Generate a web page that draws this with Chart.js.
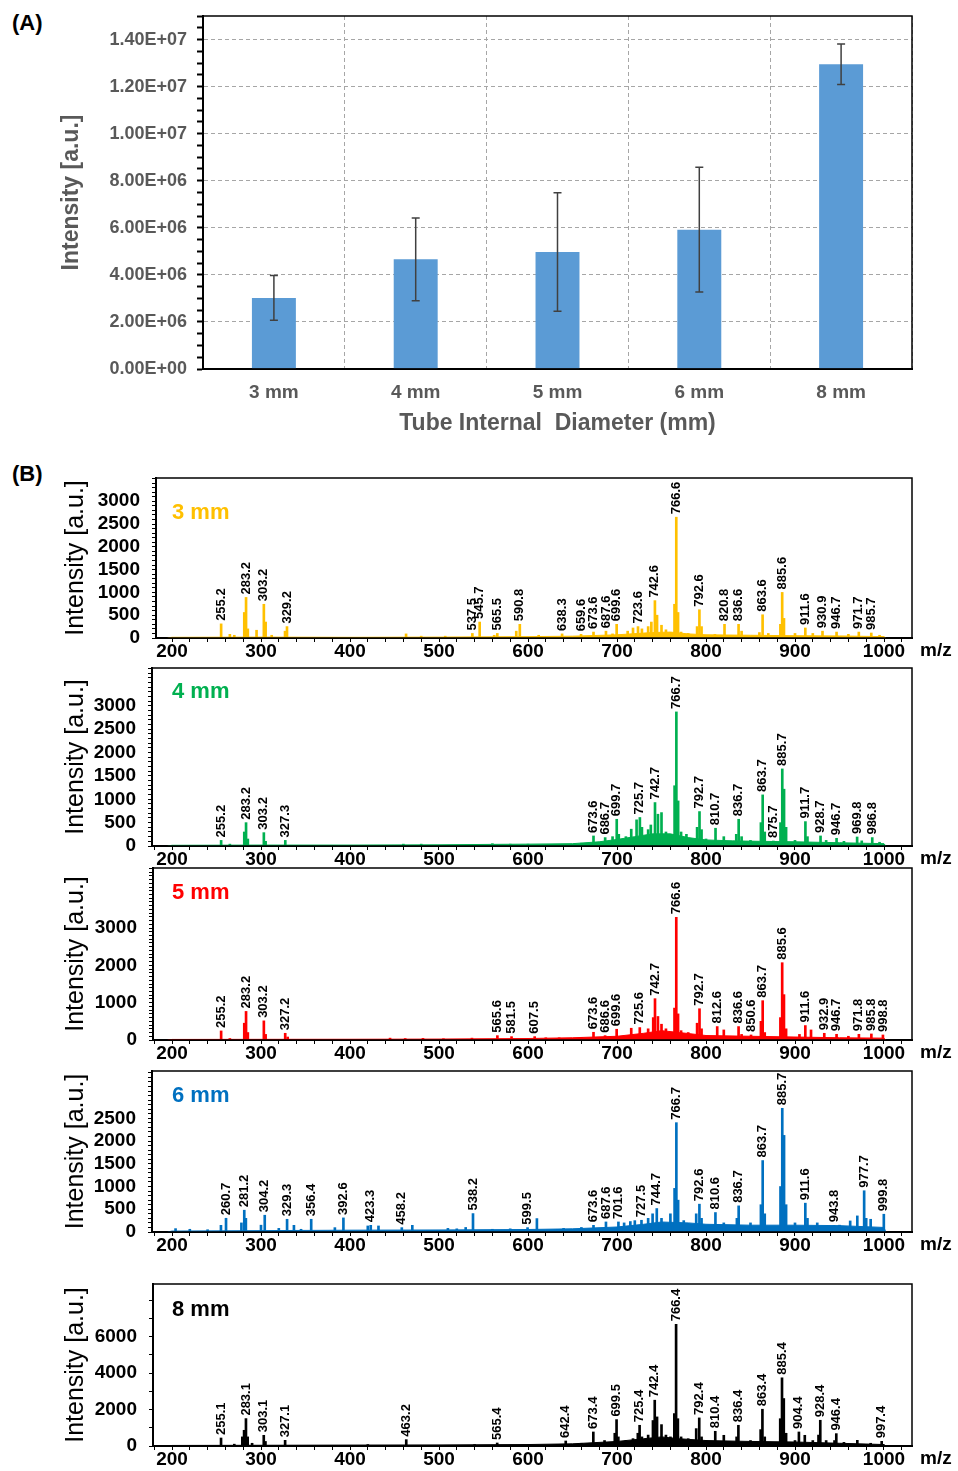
<!DOCTYPE html>
<html>
<head>
<meta charset="utf-8">
<script src="https://cdn.jsdelivr.net/npm/chart.js@4/dist/chart.umd.min.js"></script>
<style>
  body { margin: 0; background: #fff; width: 958px; height: 1471px; position: relative; overflow: hidden; }
  canvas { position: absolute; left: 0; }
  .tag { position: absolute; left: 12px; font: bold 22px 'Liberation Sans', Arial, sans-serif; line-height: 24px; color: #000; }
</style>
</head>
<body>
<div class="tag" style="top:11px">(A)</div>
<div class="tag" style="top:462px">(B)</div>
<canvas id="chartA" width="958" height="440" style="top:0"></canvas>
<script>
var FONT = "'Liberation Sans', Arial, Helvetica, sans-serif";

// ---- (A) mean intensity vs tube diameter ----
var diameters = ['3 mm', '4 mm', '5 mm', '6 mm', '8 mm'];
var meanIntensity = [3.02e6, 4.66e6, 4.97e6, 5.92e6, 1.295e7];
var errIntensity = [0.95e6, 1.76e6, 2.52e6, 2.65e6, 0.86e6];
var yLabelsA = [0, 2e6, 4e6, 6e6, 8e6, 1e7, 1.2e7, 1.4e7];

// ---- (B) spectra, peaks as [m/z, intensity] ----
var peaks3mm = [
  [255.2, 310], [265, 80], [270, 60], [281.2, 560], [283.2, 890], [285.2, 200], [295, 170], [303.2, 740], [305.2, 350], [312, 60], [327, 150], [329.2, 250],
  [463, 90], [480, 40], [507, 40], [537.5, 100], [545.7, 350], [562, 60], [565.5, 100], [586.8, 150], [590.8, 300], [612, 60],
  [638.3, 90], [659.6, 80], [673.6, 130], [687.6, 150], [695, 90], [699.6, 300], [712, 150], [718, 220], [723.6, 250], [728, 200], [735, 250], [738.6, 350], [742.6, 820], [745, 500], [750, 280], [755, 180],
  [764.6, 740], [766.6, 2650], [768.6, 560], [772, 130], [780, 100], [790, 250], [792.6, 620], [795, 250], [810, 80], [820.8, 300], [836.6, 300], [840, 150], [860, 120], [863.6, 510], [870, 100],
  [883.6, 300], [885.6, 1000], [887.6, 430], [900, 100], [911.6, 220], [920, 100], [930.9, 150], [946.7, 130], [960, 80], [971.7, 130], [985.7, 110], [995, 60]
];
var noise3mm = [[195, 0], [200, 15], [300, 20], [400, 15], [500, 20], [600, 30], [650, 40], [700, 70], [740, 120], [760, 130], [780, 90], [800, 70], [850, 60], [900, 50], [950, 45], [1000, 30], [1002, 0]];
var labels3mm = ['255.2', '283.2', '303.2', '329.2', '537.5', '545.7', '565.5', '590.8', '638.3', '659.6', '673.6', '687.6', '699.6', '723.6', '742.6', '766.6', '792.6', '820.8', '836.6', '863.6', '885.6', '911.6', '930.9', '946.7', '971.7', '985.7'];

var peaks4mm = [
  [255.2, 120], [265, 40], [281.2, 300], [283.2, 500], [285.2, 150], [303.2, 286], [305.2, 100], [327.3, 120], [460, 40], [480, 40], [560, 50], [580, 40], [600, 40], [660, 60],
  [673.6, 215], [686.7, 180], [695, 200], [699.7, 572], [702, 250], [710, 200], [716, 360], [722, 560], [725.7, 610], [728, 400], [735, 350], [738, 450], [742.7, 930], [746, 680], [750, 715], [755, 300], [760, 250],
  [764.7, 1290], [766.7, 2870], [768.7, 965], [772, 300], [778, 250], [790, 400], [792.7, 737], [795, 350], [800, 150], [810.7, 380], [820, 200], [834, 250], [836.7, 572], [840, 200], [850, 120],
  [861.7, 500], [863.7, 1094], [866, 300], [875.7, 107], [883.7, 500], [885.7, 1650], [887.7, 1216], [890, 400], [900, 120], [911.7, 522], [914, 200], [928.7, 215], [935, 120], [946.7, 165], [955, 100], [969.8, 193], [975, 110], [986.8, 180], [995, 80]
];
var noise4mm = [[195, 0], [200, 15], [300, 20], [400, 20], [500, 25], [560, 35], [600, 40], [650, 50], [680, 90], [700, 140], [720, 200], [740, 260], [760, 260], [780, 180], [800, 130], [830, 110], [860, 100], [900, 90], [950, 70], [1000, 50], [1002, 0]];
var labels4mm = ['255.2', '283.2', '303.2', '327.3', '673.6', '686.7', '699.7', '725.7', '742.7', '766.7', '792.7', '810.7', '836.7', '863.7', '875.7', '885.7', '911.7', '928.7', '946.7', '969.8', '986.8'];

var peaks5mm = [
  [255.2, 243], [265, 40], [281.2, 450], [283.2, 766], [285.2, 200], [303.2, 513], [305.2, 150], [327.2, 180], [330, 80], [445, 50], [462, 40], [482, 45], [505, 35], [537, 50],
  [565.6, 117], [581.5, 90], [607.5, 90], [620, 60], [635, 60], [660, 70], [673.6, 207], [686.6, 117], [699.6, 288], [716, 315], [725.6, 333], [735, 300], [740.7, 600], [742.7, 1108], [746, 630], [750, 423], [755, 300],
  [764.6, 855], [766.6, 3288], [768.6, 700], [772, 250], [780, 200], [790, 450], [792.7, 838], [795, 300], [812.6, 360], [820, 270], [836.6, 360], [840, 150], [850.6, 135],
  [861.7, 500], [863.7, 1054], [866, 200], [883.6, 600], [885.6, 2072], [887.6, 1216], [890, 300], [905, 150], [911.6, 387], [918, 270], [932.9, 180], [946.7, 153], [960, 100], [971.8, 153], [985.8, 162], [998.8, 135]
];
var noise5mm = [[195, 0], [200, 15], [300, 18], [400, 20], [500, 25], [600, 40], [650, 60], [700, 100], [730, 180], [750, 250], [770, 200], [800, 120], [850, 100], [900, 80], [950, 60], [1000, 50], [1002, 0]];
var labels5mm = ['255.2', '283.2', '303.2', '327.2', '565.6', '581.5', '607.5', '673.6', '686.6', '699.6', '725.6', '742.7', '766.6', '792.7', '812.6', '836.6', '850.6', '863.7', '885.6', '911.6', '932.9', '946.7', '971.8', '985.8', '998.8'];

var peaks6mm = [
  [204, 74], [220, 60], [240, 50], [255, 147], [260.7, 302], [278, 200], [281.2, 479], [283, 300], [300, 150], [304.2, 369], [320, 80], [329.3, 280], [337, 147], [345, 60], [356.4, 280],
  [383, 96], [392.6, 310], [420, 133], [423.3, 147], [432, 133], [458.2, 96], [470, 147], [510, 80], [520, 70], [530, 100], [538.2, 405], [560, 60], [580, 70], [599.5, 96], [610, 295], [640, 80], [660, 100],
  [673.6, 147], [687.6, 221], [701.6, 221], [708, 200], [715, 230], [720, 250], [727.5, 258], [735, 300], [740, 400], [744.7, 516], [750, 300], [760, 400],
  [764.7, 959], [766.7, 2404], [768.7, 700], [775, 250], [789, 400], [792.6, 612], [795, 300], [810.6, 428], [820, 200], [834.7, 300], [836.7, 575], [850, 200],
  [861.7, 600], [863.7, 1571], [866, 400], [883.7, 1000], [885.7, 2720], [887.7, 2124], [890, 600], [900, 200], [911.6, 634], [914, 300], [925, 200], [943.8, 147], [950, 150], [962, 243], [970, 354], [977.7, 907], [980, 300], [985, 280], [999.8, 391]
];
var noise6mm = [[195, 0], [200, 20], [300, 30], [400, 40], [500, 45], [600, 55], [650, 70], [700, 110], [730, 170], [750, 220], [780, 200], [800, 170], [850, 150], [900, 150], [950, 140], [1000, 100], [1002, 0]];
var labels6mm = ['260.7', '281.2', '304.2', '329.3', '356.4', '392.6', '423.3', '458.2', '538.2', '599.5', '673.6', '687.6', '701.6', '727.5', '744.7', '766.7', '792.6', '810.6', '836.7', '863.7', '885.7', '911.6', '943.8', '977.7', '999.8'];

var peaks8mm = [
  [255.1, 440], [270, 100], [279, 500], [281, 863], [283.1, 1506], [285, 500], [290, 150], [303.1, 588], [305, 250], [327.1, 312], [420, 80], [463.2, 349], [540, 80], [565.4, 165], [600, 60],
  [642.4, 275], [660, 150], [673.4, 771], [686, 300], [697.5, 700], [699.5, 1450], [701.5, 500], [710, 300], [718, 404], [723.4, 700], [725.4, 1138], [728, 500], [735, 600], [740.4, 1400], [742.4, 2516], [745, 1598], [750, 1175], [755, 600], [760, 500],
  [764.4, 1781], [766.4, 6685], [768.4, 1500], [772, 500], [780, 400], [789, 955], [792.4, 1543], [795, 500], [800, 300], [810.4, 808], [820, 588], [834.4, 500], [836.4, 1138], [850, 300],
  [861.4, 900], [863.4, 2020], [866, 500], [883.4, 1500], [885.4, 3746], [887.4, 2608], [890, 700], [900, 300], [904.4, 771], [911, 588], [920, 300], [926.4, 600], [928.4, 1414], [935, 300], [944.4, 300], [946.4, 680], [955, 200], [970, 312], [985, 150], [997.4, 257]
];
var noise8mm = [[195, 0], [200, 30], [300, 40], [400, 50], [500, 60], [600, 80], [650, 120], [700, 250], [730, 400], [750, 500], [770, 400], [800, 300], [850, 250], [900, 220], [950, 150], [1000, 80], [1002, 0]];
var labels8mm = ['255.1', '283.1', '303.1', '327.1', '463.2', '565.4', '642.4', '673.4', '699.5', '725.4', '742.4', '766.4', '792.4', '810.4', '836.4', '863.4', '885.4', '904.4', '928.4', '946.4', '997.4'];

var xLabelsMz = [200, 300, 400, 500, 600, 700, 800, 900, 1000];
var yLabels3mm = [0, 500, 1000, 1500, 2000, 2500, 3000];
var yLabels4mm = [0, 500, 1000, 1500, 2000, 2500, 3000];
var yLabels5mm = [0, 1000, 2000, 3000];
var yLabels6mm = [0, 500, 1000, 1500, 2000, 2500];
var yLabels8mm = [0, 2000, 4000, 6000];

// tick positions every `step` inside [min, max]
function steps(min, max, step) {
  var out = [];
  for (var i = Math.ceil(min / step); i * step <= max; i++) out.push({value: i * step});
  return out;
}

function fmtE(v) {
  if (v === 0) return '0.00E+00';
  var e = Math.floor(Math.log10(v));
  var m = v / Math.pow(10, e);
  return m.toFixed(2) + 'E+' + (e < 10 ? '0' : '') + e;
}

// keep the axis boxes exactly where we put them (no extra label padding)
function fixBox(s, w, h) {
  if (w !== null) s.width = w;
  if (h !== null) s.height = h;
  s.paddingTop = 0; s.paddingBottom = 0; s.paddingLeft = 0; s.paddingRight = 0;
}

var errorBars = {
  id: 'errorBars',
  afterDatasetsDraw: function(chart) {
    var ctx = chart.ctx, y = chart.scales.y;
    ctx.save();
    ctx.strokeStyle = '#404040';
    ctx.lineWidth = 1.5;
    chart.getDatasetMeta(0).data.forEach(function(bar, i) {
      var hi = y.getPixelForValue(meanIntensity[i] + errIntensity[i]);
      var lo = y.getPixelForValue(meanIntensity[i] - errIntensity[i]);
      ctx.beginPath();
      ctx.moveTo(bar.x, hi); ctx.lineTo(bar.x, lo);
      ctx.moveTo(bar.x - 4, hi); ctx.lineTo(bar.x + 4, hi);
      ctx.moveTo(bar.x - 4, lo); ctx.lineTo(bar.x + 4, lo);
      ctx.stroke();
    });
    ctx.restore();
  }
};

var frame = {
  id: 'frame',
  afterDraw: function(chart) {
    var a = chart.chartArea, ctx = chart.ctx;
    ctx.save();
    ctx.strokeStyle = '#000';
    ctx.lineWidth = 1.5;
    ctx.strokeRect(a.left, a.top, a.right - a.left, a.bottom - a.top);
    ctx.restore();
  }
};

new Chart(document.getElementById('chartA'), {
  type: 'bar',
  data: {
    labels: diameters,
    datasets: [{data: meanIntensity, backgroundColor: '#5B9BD5', barPercentage: 0.31, categoryPercentage: 1}]
  },
  options: {
    responsive: false,
    animation: false,
    devicePixelRatio: 1,
    layout: {padding: {left: 55, right: 46, top: 16, bottom: 0}},
    plugins: {legend: {display: false}, tooltip: {enabled: false}},
    scales: {
      x: {
        offset: true,
        grid: {color: '#A6A6A6', drawTicks: false, offset: true},
        border: {color: '#000', width: 2, dash: [4, 3]},
        ticks: {color: '#595959', font: {size: 19, weight: 'bold', family: FONT}, padding: 12},
        title: {display: true, text: 'Tube Internal  Diameter (mm)', color: '#595959', font: {size: 23, weight: 'bold', family: FONT}, padding: {top: 0, bottom: 3}},
        afterFit: function(s) { fixBox(s, null, 71); }
      },
      y: {
        min: 0,
        max: 1.5e7,
        afterBuildTicks: function(s) { s.ticks = steps(0, 1.5e7, 5e5); },
        grid: {
          color: function(c) { return c.tick && yLabelsA.indexOf(c.tick.value) > 0 ? '#A6A6A6' : 'rgba(0,0,0,0)'; },
          tickColor: '#000', tickLength: 6, tickWidth: 2
        },
        border: {color: '#000', width: 2, dash: [4, 3]},
        ticks: {
          autoSkip: false, color: '#595959', font: {size: 18, weight: 'bold', family: FONT}, padding: 10,
          callback: function(v) { return yLabelsA.indexOf(v) >= 0 ? fmtE(v) : ''; }
        },
        title: {display: true, text: 'Intensity [a.u.]', color: '#595959', font: {size: 23, weight: 'bold', family: FONT}, padding: {top: 3, bottom: 0}},
        afterFit: function(s) { fixBox(s, 148, null); }
      }
    }
  },
  plugins: [errorBars, frame]
});

// frame boxes of the five spectra
var spectra = [
  {name: '3 mm', color: '#FFC000', peaks: peaks3mm, noise: noise3mm, labels: labels3mm, yLabels: yLabels3mm, yMax: 3510, yMinor: 100, left: 156, top: 478, bottom: 638, nameDy: 35},
  {name: '4 mm', color: '#00B050', peaks: peaks4mm, noise: noise4mm, labels: labels4mm, yLabels: yLabels4mm, yMax: 3810, yMinor: 100, left: 152, top: 668, bottom: 846, nameDy: 24},
  {name: '5 mm', color: '#FF0000', peaks: peaks5mm, noise: noise5mm, labels: labels5mm, yLabels: yLabels5mm, yMax: 4610, yMinor: 100, left: 153, top: 868, bottom: 1040, nameDy: 25},
  {name: '6 mm', color: '#0070C0', peaks: peaks6mm, noise: noise6mm, labels: labels6mm, yLabels: yLabels6mm, yMax: 3540, yMinor: 100, left: 152, top: 1071, bottom: 1232, nameDy: 25},
  {name: '8 mm', color: '#000000', peaks: peaks8mm, noise: noise8mm, labels: labels8mm, yLabels: yLabels8mm, yMax: 8900, yMinor: 1000, left: 153, top: 1284, bottom: 1446, nameDy: 26}
];
var RIGHT = 912, PAD_TOP = 12, X_AXIS_H = 30, PAD_LEFT = 61;
var PX_200 = 172, PX_1000 = 884;

function drawSpectrum(sp) {
  var canvas = document.createElement('canvas');
  var ctop = sp.top - PAD_TOP;
  canvas.width = 958;
  canvas.height = sp.bottom - ctop + X_AXIS_H;
  canvas.style.top = ctop + 'px';
  document.body.appendChild(canvas);

  var perPx = 800 / (PX_1000 - PX_200);
  var xMin = 200 - (PX_200 - sp.left) * perPx;
  var xMax = 1000 + (RIGHT - PX_1000) * perPx;

  var annotate = {
    id: 'annotate',
    afterDatasetsDraw: function(chart) {
      var ctx = chart.ctx, a = chart.chartArea, xs = chart.scales.x, ys = chart.scales.y;
      ctx.save();
      ctx.beginPath();
      ctx.rect(a.left, a.top, a.right - a.left, a.bottom - a.top);
      ctx.clip();
      ctx.fillStyle = '#000';
      ctx.font = 'bold 13px ' + FONT;
      ctx.textAlign = 'left';
      ctx.textBaseline = 'middle';
      sp.labels.forEach(function(lbl) {
        var mz = parseFloat(lbl);
        var pk = sp.peaks.filter(function(p) { return p[0] === mz; })[0];
        if (!pk) return;
        ctx.save();
        ctx.translate(xs.getPixelForValue(pk[0]), ys.getPixelForValue(pk[1]) - 3);
        ctx.rotate(-Math.PI / 2);
        ctx.fillText(lbl, 0, 0);
        ctx.restore();
      });
      ctx.fillStyle = sp.color;
      ctx.font = 'bold 22px ' + FONT;
      ctx.fillText(sp.name, 172, a.top + sp.nameDy);
      ctx.restore();

      ctx.save();
      ctx.fillStyle = '#000';
      ctx.font = 'bold 19px ' + FONT;
      ctx.textBaseline = 'middle';
      ctx.fillText('m/z', a.right + 8, a.bottom + 13);
      ctx.restore();
    }
  };

  new Chart(canvas, {
    type: 'bar',
    data: {
      datasets: [{
        type: 'bar',
        data: sp.peaks.map(function(p) { return {x: p[0], y: p[1]}; }),
        backgroundColor: sp.color,
        barThickness: 2,
        grouped: false
      }, {
        type: 'line',
        data: sp.noise.map(function(p) { return {x: p[0], y: p[1]}; }),
        borderColor: sp.color,
        backgroundColor: sp.color,
        borderWidth: 1,
        pointRadius: 0,
        tension: 0,
        fill: 'origin'
      }]
    },
    options: {
      responsive: false,
      animation: false,
      devicePixelRatio: 1,
      layout: {padding: {left: PAD_LEFT, right: 958 - RIGHT, top: PAD_TOP, bottom: 0}},
      plugins: {legend: {display: false}, tooltip: {enabled: false}},
      scales: {
        x: {
          type: 'linear',
          min: xMin,
          max: xMax,
          offset: false,
          afterBuildTicks: function(s) { s.ticks = steps(xMin, xMax, 20); },
          grid: {drawOnChartArea: false, tickLength: 4, tickColor: '#000', tickWidth: 1, offset: false},
          border: {color: '#000', width: 2},
          ticks: {
            autoSkip: false, maxRotation: 0, color: '#000', padding: 0,
            font: {size: 19, weight: 'bold', family: FONT, lineHeight: 1},
            callback: function(v) { return xLabelsMz.indexOf(v) >= 0 ? String(v) : ''; }
          },
          afterFit: function(s) { fixBox(s, null, X_AXIS_H); }
        },
        y: {
          min: 0,
          max: sp.yMax,
          afterBuildTicks: function(s) { s.ticks = steps(0, sp.yMax, sp.yMinor); },
          grid: {drawOnChartArea: false, tickLength: 4, tickColor: '#000', tickWidth: 1},
          border: {color: '#000', width: 2},
          ticks: {
            autoSkip: false, color: '#000', padding: 12,
            font: {size: 19, weight: 'bold', family: FONT},
            callback: function(v) { return sp.yLabels.indexOf(v) >= 0 ? String(v) : ''; }
          },
          title: {display: true, text: 'Intensity [a.u.]', color: '#000', font: {size: 25, family: FONT}, padding: {top: 0, bottom: 0}},
          afterFit: function(s) { fixBox(s, sp.left - PAD_LEFT, null); }
        }
      }
    },
    plugins: [frame, annotate]
  });
}

spectra.forEach(drawSpectrum);
</script>
</body>
</html>
